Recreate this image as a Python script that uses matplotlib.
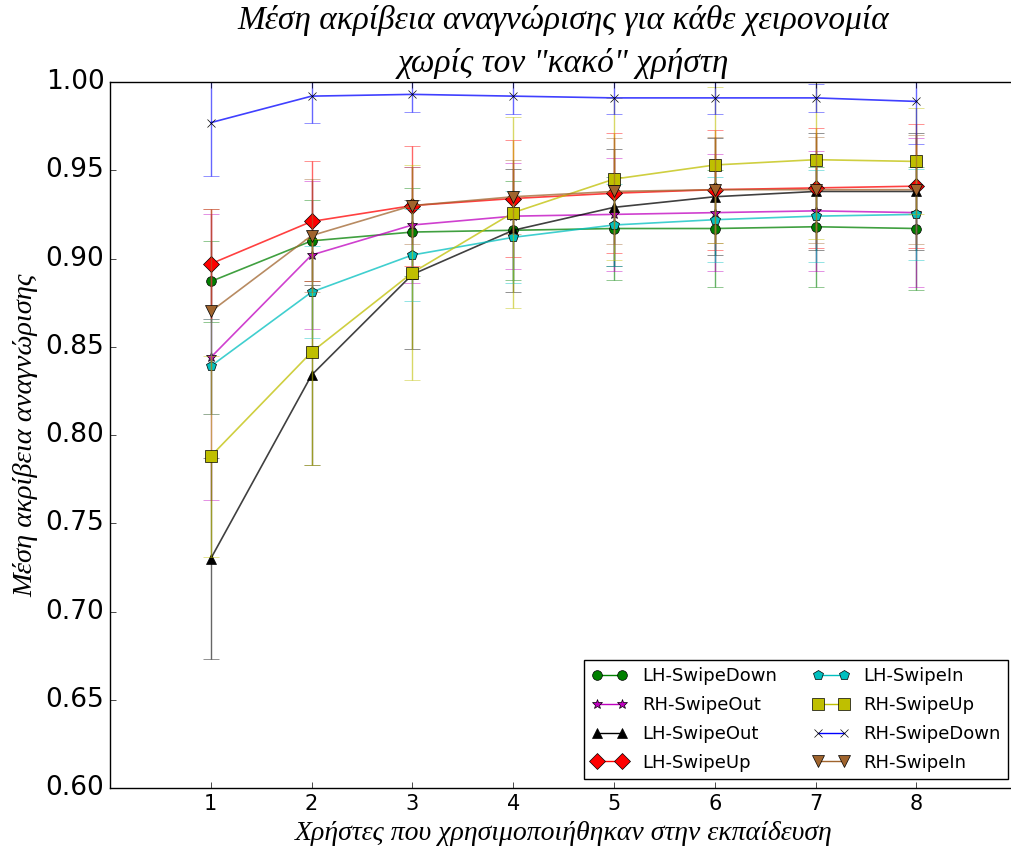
import matplotlib
matplotlib.use("Agg")
import matplotlib.pyplot as plt
from matplotlib.lines import Line2D
import numpy as np

plt.style.use('classic')

# Data
users = [1, 2, 3, 4, 5, 6, 7, 8]
labels = ["LH-SwipeDown", "RH-SwipeOut", "LH-SwipeOut", "LH-SwipeUp",
          "LH-SwipeIn", "RH-SwipeUp", "RH-SwipeDown", "RH-SwipeIn"]

lh_swipedown = [0.887, 0.910, 0.915, 0.916, 0.917, 0.917, 0.918, 0.917]
lh_swipedown_err = [0.023, 0.023, 0.025, 0.028, 0.029, 0.033, 0.034, 0.035]
rh_swipeout = [0.844, 0.902, 0.919, 0.924, 0.925, 0.926, 0.927, 0.926]
rh_swipeout_err = [0.081, 0.042, 0.033, 0.030, 0.032, 0.033, 0.034, 0.042]
lh_swipeout = [0.730, 0.834, 0.891, 0.916, 0.929, 0.935, 0.938, 0.938]
lh_swipeout_err = [0.057, 0.051, 0.042, 0.035, 0.033, 0.033, 0.033, 0.033]
lh_swipeup = [0.897, 0.921, 0.930, 0.934, 0.937, 0.939, 0.940, 0.941]
lh_swipeup_err = [0.031, 0.034, 0.034, 0.033, 0.034, 0.034, 0.034, 0.035]
lh_swipein = [0.839, 0.881, 0.902, 0.912, 0.919, 0.922, 0.924, 0.925]
lh_swipein_err = [0.027, 0.026, 0.026, 0.026, 0.023, 0.024, 0.026, 0.026]
rh_swipeup = [0.788, 0.847, 0.892, 0.926, 0.945, 0.953, 0.956, 0.955]
rh_swipeup_err = [0.057, 0.064, 0.061, 0.054, 0.046, 0.044, 0.045, 0.030]
rh_swipedown = [0.977, 0.992, 0.993, 0.992, 0.991, 0.991, 0.991, 0.989]
rh_swipedown_err = [0.030, 0.015, 0.010, 0.010, 0.009, 0.009, 0.008, 0.024]
rh_swipein = [0.870, 0.913, 0.930, 0.935, 0.938, 0.939, 0.939, 0.939]
rh_swipein_err = [0.058, 0.032, 0.022, 0.021, 0.030, 0.030, 0.030, 0.031]

series = [lh_swipedown, rh_swipeout, lh_swipeout, lh_swipeup,
          lh_swipein, rh_swipeup, rh_swipedown, rh_swipein]
errors = [lh_swipedown_err, rh_swipeout_err, lh_swipeout_err, lh_swipeup_err,
          lh_swipein_err, rh_swipeup_err, rh_swipedown_err, rh_swipein_err]
colors = ['g', 'm', 'k', 'r', 'c', 'y', 'b', '#A0642D']
markers = ['o', '*', '^', 'D', 'p', 's', 'x', 'v']
msizes = [7, 7, 7, 8, 7, 8, 6, 8]

fig = plt.figure(figsize=(10.12, 8.49), dpi=100, facecolor='white')
ax = fig.add_axes([0.1087, 0.0718, 0.8965, 0.8316])

handles = []
for y, e, c, m, ms, lab in zip(series, errors, colors, markers, msizes, labels):
    # error bars, then the line, then the markers on top
    ax.errorbar(users, y, yerr=e, fmt='none', ecolor=c, capsize=6, alpha=0.6)
    ax.plot(users, y, color=c, lw=1.2, alpha=0.75)
    ax.plot(users, y, ls='none', marker=m, markersize=ms, color=c,
            markeredgecolor='k', markeredgewidth=0.5)
    handles.append(Line2D([], [], color=c, marker=m, markersize=ms,
                          markeredgecolor='k', markeredgewidth=0.5, label=lab))

ax.set_xlim(0, 9)
ax.set_ylim(0.60, 1.00)
ax.set_xticks(users)
ax.set_yticks(np.arange(0.60, 1.001, 0.05))
ax.tick_params(axis='y', labelsize=19)
ax.tick_params(axis='x', labelsize=15)

serif = dict(family='Liberation Serif', style='italic')
ax.set_title('Μέση ακρίβεια αναγνώρισης για κάθε χειρονομία\nχωρίς τον "κακό" χρήστη',
             fontsize=24, linespacing=1.5, pad=7, **serif)
ax.set_xlabel('Χρήστες που χρησιμοποιήθηκαν στην εκπαίδευση', fontsize=20, **serif)
ax.set_ylabel('Μέση ακρίβεια αναγνώρισης', fontsize=20.5, **serif)

leg = ax.legend(handles=handles, loc='lower right', ncol=2, fontsize=13,
                numpoints=2, bbox_to_anchor=(1.0, 0.0), borderaxespad=0.5,
                columnspacing=2.0, handletextpad=0.8, labelspacing=0.6)
leg.get_frame().set_edgecolor('k')

fig.savefig('out.png', dpi=100, facecolor='white')
